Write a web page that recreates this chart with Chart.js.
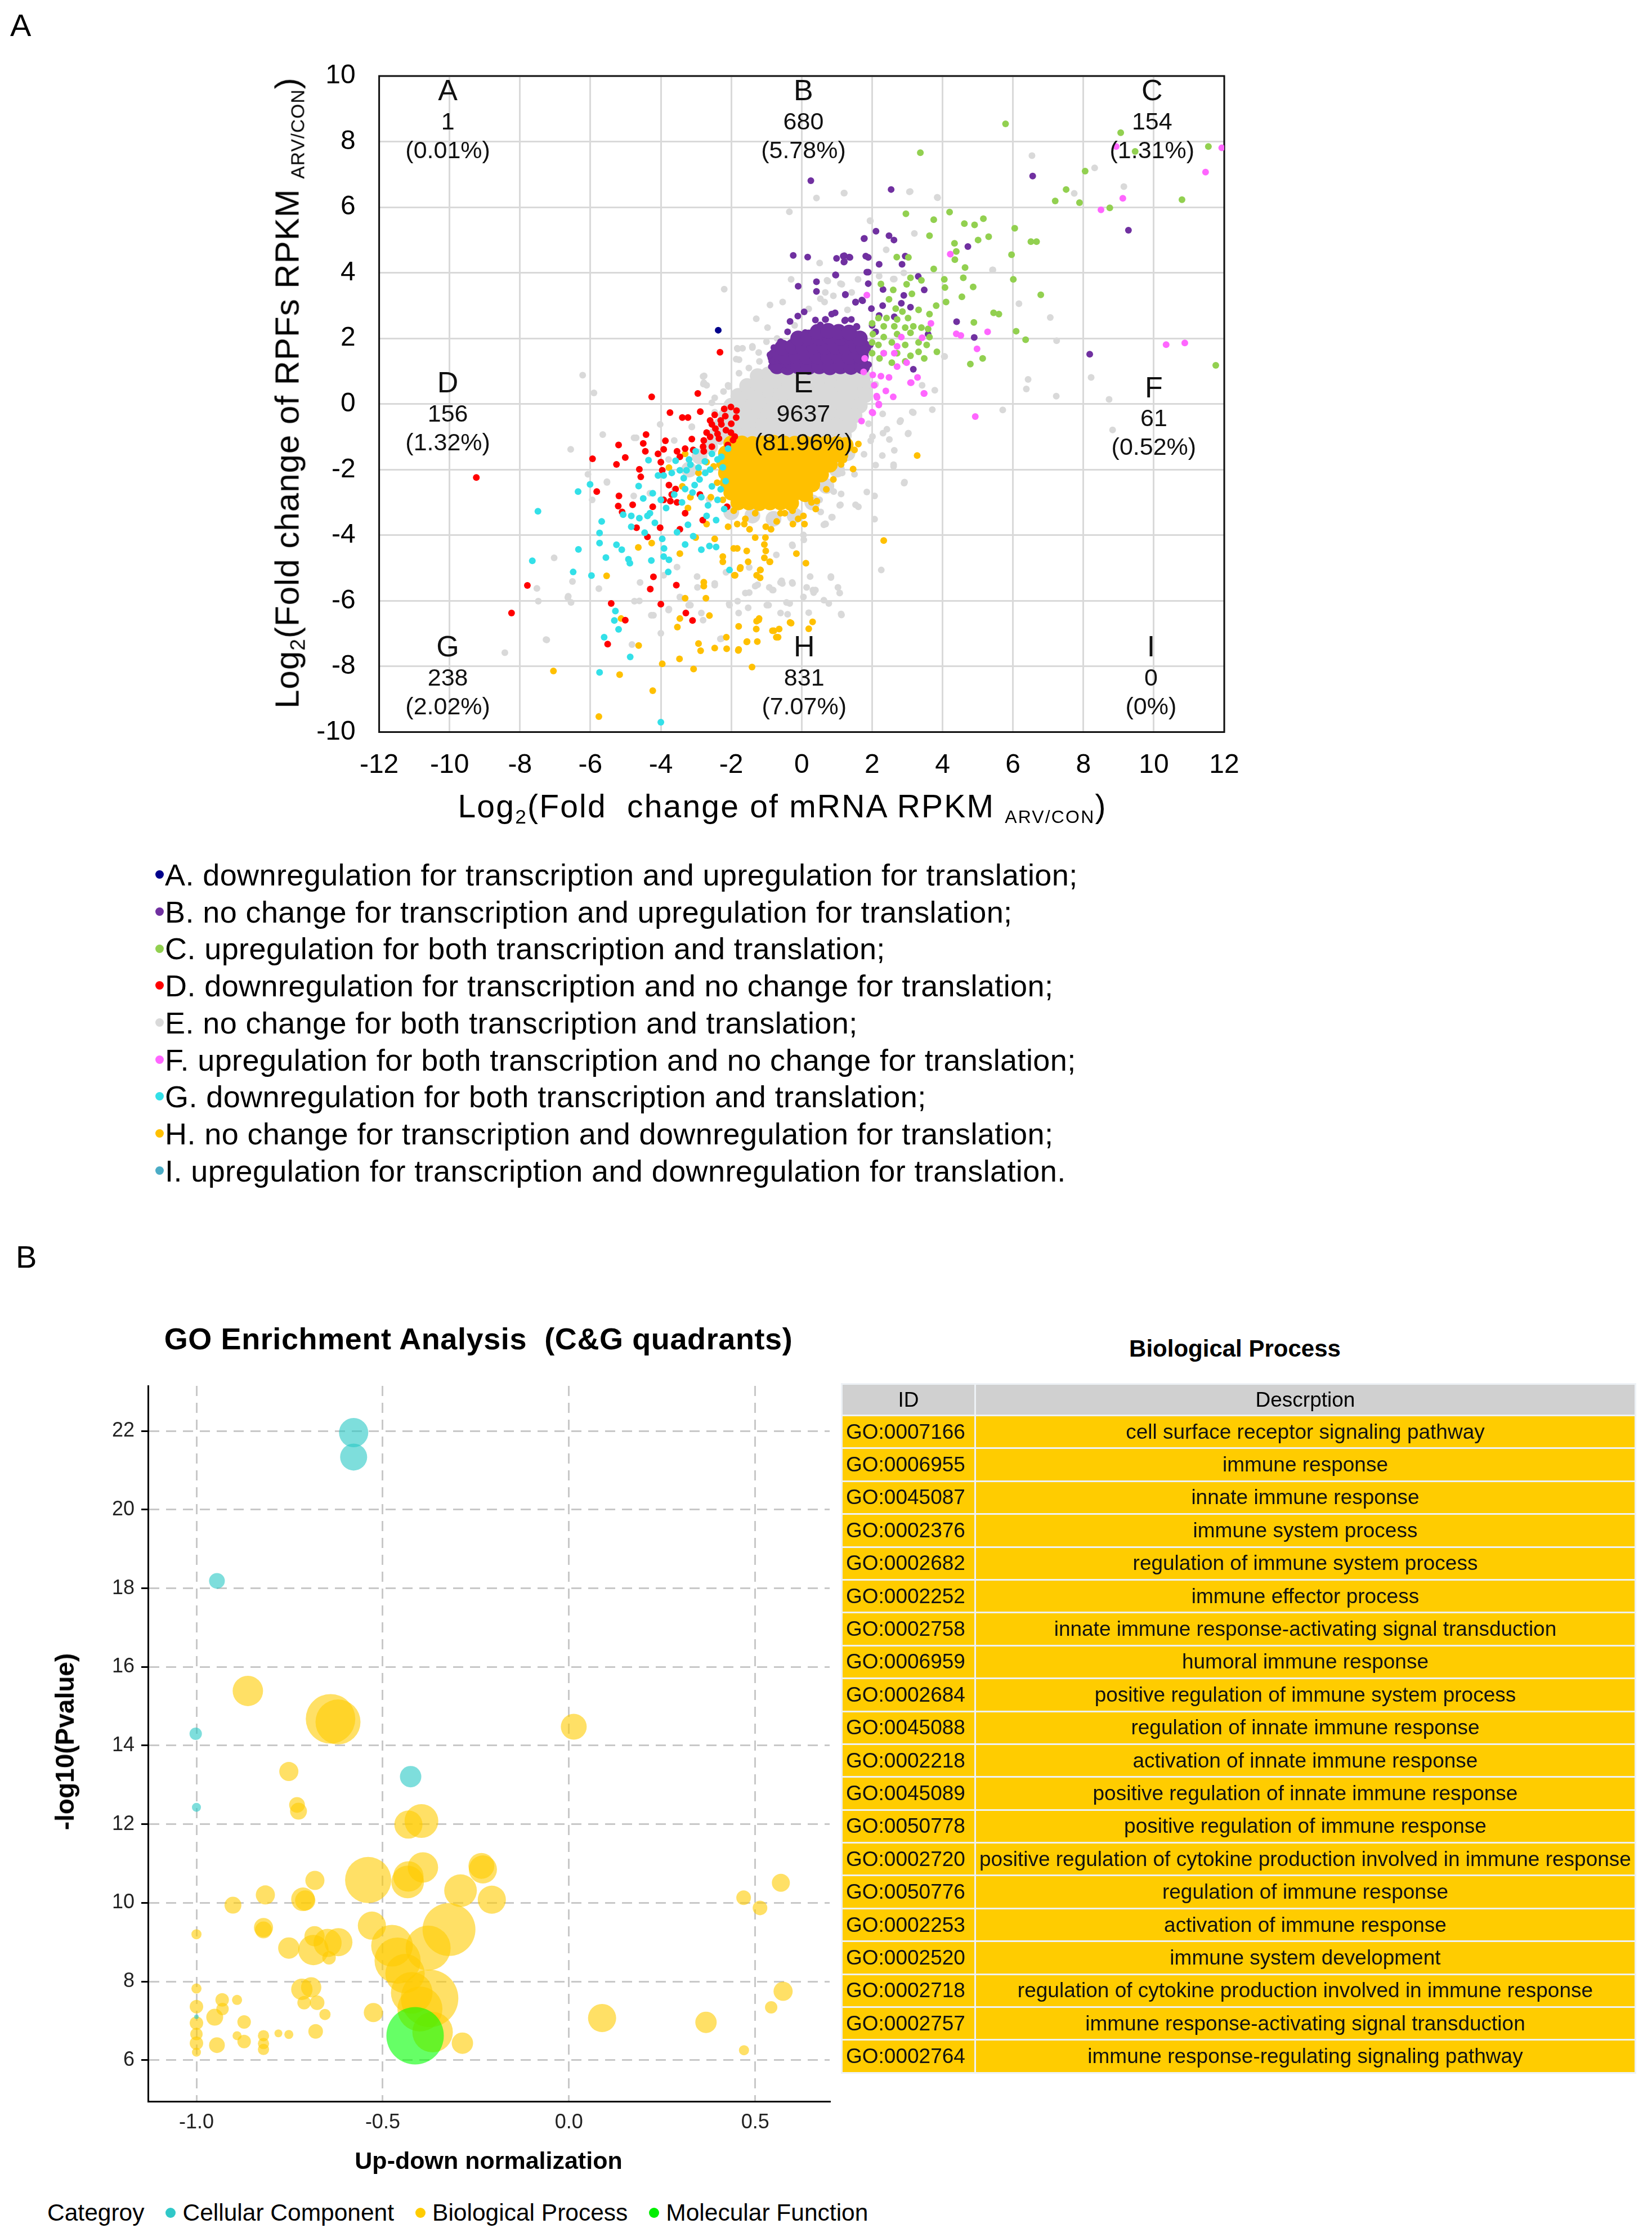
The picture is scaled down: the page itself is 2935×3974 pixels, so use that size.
<!DOCTYPE html>
<html>
<head>
<meta charset="utf-8">
<title>Translation vs transcription and GO enrichment</title>
<script src="https://cdn.jsdelivr.net/npm/chart.js@4.4.1/dist/chart.umd.min.js"></script>
<style>
  html, body { margin: 0; padding: 0; background: #fff; }
  body { position: relative; width: 2935px; height: 3974px; overflow: hidden;
         font-family: "Liberation Sans", Arial, Helvetica, sans-serif; color: #000; }
  .abs { position: absolute; white-space: nowrap; }
  .ctr { transform: translate(-50%, -50%); }
  .rot { transform: translate(-50%, -50%) rotate(-90deg); }
  .panel { font-size: 56px; }
  sub { font-size: 62%; vertical-align: -0.3em; line-height: 0; }
  sub.sm { font-size: 56%; }
  #legendA .row { position: absolute; left: 276px; font-size: 54px; letter-spacing: 0.4px; line-height: 1; transform: translateY(-50%); }
  .dot { display: inline-block; border-radius: 50%; vertical-align: middle; }
  #legendA .dot { width: 15px; height: 15px; margin-right: 2px; position: relative; top: -5px; }
  #legendB { left: 84px; top: 3931px; font-size: 42.5px; transform: translateY(-50%); }
  #legendB .dot { width: 18px; height: 18px; margin: 0 12px 0 38px; position: relative; top: -3px; }
  #tbl { left: 1494px; top: 2457px; border-collapse: collapse; font-size: 37px; }
  #tbl td, #tbl th { border: 3px solid #eef2f6; height: 55.4px; padding: 0 6px; font-weight: normal; }
  #tbl th { background: #d0d0d0; height: 53px; }
  #tbl td { background: #ffcc00; color: #111; }
  #tbl td.id { width: 222px; text-align: left; }
  #tbl td.desc { width: 1144px; text-align: center; }
</style>
</head>
<body>

<div class="abs panel" style="left:18px; top:12px;">A</div>
<div class="abs panel" style="left:28px; top:2200px;">B</div>

<div class="abs" style="left:480px; top:62.5px; width:1760px; height:1357.5px;"><canvas id="chartA"></canvas></div>
<div class="abs rot" style="left:510px; top:698px; font-size:60px; letter-spacing:1px;">Log<sub>2</sub>(Fold change of RPFs RPKM <sub class="sm">ARV/CON</sub>)</div>
<div class="abs ctr" style="left:1390px; top:1432px; font-size:57px; letter-spacing:2.2px;">Log<sub>2</sub>(Fold&nbsp; change of mRNA RPKM <sub class="sm">ARV/CON</sub>)</div>
<div id="legendA"></div>

<div class="abs ctr" style="left:850px; top:2378px; font-size:54px; letter-spacing:0.6px; font-weight:bold;">GO Enrichment Analysis&nbsp; (C&amp;G quadrants)</div>
<div class="abs" style="left:0px; top:2410px; width:1526px; height:1410px;"><canvas id="chartB"></canvas></div>
<div class="abs rot" style="left:115px; top:3094px; font-size:46px; font-weight:bold;">-log10(Pvalue)</div>
<div class="abs ctr" style="left:868px; top:3838px; font-size:43px; font-weight:bold;">Up-down normalization</div>
<div id="legendB" class="abs"></div>

<div class="abs ctr" style="left:2194px; top:2396px; font-size:42px; font-weight:bold;">Biological Process</div>
<table id="tbl" class="abs"></table>

<script>
// ---------- Panel A: log2 fold change, RPFs vs mRNA ----------
const xTicksA = [-12, -10, -8, -6, -4, -2, 0, 2, 4, 6, 8, 10, 12];
const yTicksA = [-10, -8, -6, -4, -2, 0, 2, 4, 6, 8, 10];

const quadLetters = ["A", "B", "C", "D", "E", "F", "G", "H", "I"];
const quadCounts = ["1", "680", "154", "156", "9637", "61", "238", "831", "0"];
const quadPercents = ["(0.01%)", "(5.78%)", "(1.31%)", "(1.32%)", "(81.96%)", "(0.52%)", "(2.02%)", "(7.07%)", "(0%)"];

// [mRNA log2FC, RPF log2FC]
const navyA = [[-2.37, 2.25]];
const purpleB = [
  [0.26, 6.81], [2.54, 6.54], [6.56, 6.95], [9.28, 5.30], [8.18, 1.52], [4.72, 4.80], [4.40, 2.51], [4.90, 2.03],
  [2.11, 5.27], [2.48, 5.13], [2.62, 5.00], [1.77, 5.04], [0.99, 4.44], [1.18, 4.51], [1.37, 4.47], [1.20, 4.33],
  [1.82, 4.51], [1.89, 4.47], [2.20, 4.26], [2.85, 4.26], [2.94, 4.51], [1.89, 4.02], [0.97, 3.93], [3.31, 3.89],
  [1.89, 3.67], [3.48, 3.48], [1.24, 3.33], [2.31, 3.49], [2.90, 3.31], [1.53, 3.11], [1.73, 3.15], [1.98, 2.91],
  [2.83, 3.07], [3.09, 2.95], [2.63, 2.66], [0.68, 2.58], [0.95, 2.78], [1.22, 2.54], [1.41, 2.58], [1.56, 2.37],
  [3.59, 2.13], [3.17, 1.06], [-0.24, 4.53], [0.17, 4.48], [-0.10, 3.59], [0.42, 3.73], [0.42, 3.43], [0.96, 3.94],
  [1.21, 4.52], [1.35, 4.48], [1.21, 4.34], [1.78, 5.05], [-0.11, 2.68], [-0.33, 2.52], [0.07, 2.81], [0.39, 2.56],
  [0.53, 2.41], [0.67, 2.58], [0.85, 2.74], [1.24, 2.56], [1.57, 2.35], [1.53, 3.10], [1.24, 3.34], [1.71, 3.17],
  [1.85, 4.02], [-0.50, 1.03], [-0.86, 1.14], [-0.79, 1.72], [0.10, 2.18], [-0.90, 1.50], [-0.85, 1.30],
  [-0.60, 1.90], [-0.40, 2.20], [1.90, 1.20], [1.95, 1.80], [2.10, 2.20], [2.00, 2.40], [2.20, 2.70], [2.30, 3.00]
];
const purpleBlob = [
  [-0.7, 1.15], [-0.4, 1.12], [-0.1, 1.15], [0.2, 1.13], [0.5, 1.15], [0.8, 1.12], [1.1, 1.15], [1.4, 1.13], [1.72, 1.15],
  [-0.75, 1.45], [-0.45, 1.43], [-0.15, 1.46], [0.15, 1.44], [0.45, 1.45], [0.75, 1.43], [1.05, 1.46], [1.35, 1.44], [1.68, 1.45],
  [-0.55, 1.72], [-0.25, 1.75], [0.05, 1.73], [0.35, 1.76], [0.65, 1.74], [0.95, 1.75], [1.25, 1.73], [1.55, 1.76], [1.75, 1.72],
  [-0.1, 2.0], [0.2, 2.03], [0.5, 2.02], [0.8, 2.05], [1.1, 2.02], [1.4, 2.04], [1.65, 2.0],
  [0.45, 2.2], [0.75, 2.23], [1.05, 2.2], [1.35, 2.18]
];
const greenC = [
  [5.79, 8.54], [3.37, 7.66], [9.06, 8.27], [9.47, 7.70], [11.55, 7.85], [8.05, 7.10], [7.51, 6.54], [7.20, 6.19],
  [7.89, 6.14], [8.75, 5.98], [10.80, 6.23], [11.76, 1.18], [2.96, 5.80], [3.75, 5.62], [4.20, 5.85], [4.62, 5.50],
  [4.91, 5.46], [5.16, 5.65], [6.05, 5.36], [3.63, 5.13], [4.34, 4.90], [4.39, 4.65], [5.01, 5.00], [5.31, 5.10],
  [6.51, 4.95], [6.67, 4.95], [5.96, 4.55], [2.70, 4.48], [3.03, 4.47], [4.35, 4.40], [4.64, 4.16], [3.75, 4.12],
  [4.59, 3.85], [4.05, 3.80], [4.87, 3.57], [6.01, 3.80], [6.79, 3.33], [4.07, 3.55], [4.55, 3.27], [4.10, 3.11],
  [3.82, 3.00], [5.45, 2.78], [5.60, 2.74], [4.89, 2.49], [6.09, 2.22], [6.36, 1.96], [5.14, 1.39], [4.79, 1.22],
  [3.84, 1.59], [3.48, 1.39], [2.25, 3.66], [2.60, 3.48], [2.98, 3.65], [3.09, 3.85], [3.40, 3.77], [3.13, 3.36],
  [2.48, 3.19], [2.67, 2.91], [2.86, 2.82], [3.32, 2.87], [2.18, 2.62], [2.41, 2.62], [2.71, 2.58], [3.02, 2.62],
  [3.63, 2.74], [2.00, 2.46], [2.33, 2.37], [2.63, 2.37], [2.94, 2.33], [3.17, 2.37], [3.40, 2.33], [3.59, 2.29],
  [2.02, 2.13], [2.33, 2.04], [2.71, 2.13], [3.09, 2.17], [3.63, 2.04], [2.00, 1.88], [2.18, 1.80], [2.56, 1.88],
  [2.94, 1.80], [3.32, 1.88], [3.55, 1.80], [2.00, 1.55], [2.33, 1.55], [2.71, 1.55], [3.09, 1.47], [3.32, 1.59],
  [2.21, 1.39], [2.56, 1.26], [2.94, 1.30]
];
const redD = [
  [-9.24, -2.24], [-8.24, -6.37], [-7.79, -5.53], [-5.51, -7.32], [-5.41, -6.08], [-5.01, -6.59], [-4.21, -5.27],
  [-4.30, -5.64], [-4.00, -6.10], [-3.56, -5.52], [-3.29, -6.37], [-3.10, -6.60], [-5.94, -1.67], [-5.82, -2.67],
  [-5.26, -1.84], [-5.20, -1.25], [-5.01, -1.63], [-5.19, -2.80], [-4.80, -3.07], [-5.21, -3.11], [-5.10, -3.29],
  [-4.26, 0.22], [-4.42, -0.93], [-4.50, -1.20], [-4.44, -1.44], [-4.61, -1.99], [-4.57, -2.22], [-4.69, -3.77],
  [-4.38, -4.05], [-4.02, -3.77], [-3.74, -0.26], [-3.87, -1.12], [-3.92, -1.38], [-4.08, -1.52], [-4.00, -1.77],
  [-3.39, -0.41], [-3.23, -0.41], [-2.95, 0.32], [-2.88, -0.23], [-2.32, 1.58], [-2.01, -0.09], [-2.47, -0.33],
  [-2.17, -0.37], [-1.86, -0.41], [-2.55, -0.62], [-2.28, -0.62], [-2.70, -0.87], [-2.01, -0.87], [-1.90, -0.99],
  [-2.39, -0.91], [-2.78, -1.11], [-3.12, -1.07], [-3.31, -1.36], [-3.08, -1.40], [-2.78, -1.44], [-3.46, -1.61],
  [-3.54, -1.44], [-3.96, -2.02], [-3.77, -2.47], [-3.92, -2.92], [-3.73, -2.96], [-3.54, -3.00], [-4.23, -3.13],
  [-3.31, -3.33], [-3.46, -3.82], [-2.81, -3.54], [-2.12, -3.13], [-2.89, -2.76], [-3.69, -2.76], [-3.58, -2.59],
  [-2.60, -0.50], [-2.30, -0.50], [-2.00, -0.60], [-2.45, -0.75], [-2.15, -0.80], [-1.95, -1.10], [-2.60, -1.00],
  [-2.35, -1.05], [-2.10, -1.25], [-2.80, -1.30], [-2.55, -1.30], [-1.85, -0.20], [-2.20, -0.15]
];
const grayE = [
  [6.54, 7.57], [8.32, 7.20], [9.15, 6.63], [7.74, 6.42], [1.20, 6.43], [3.08, 6.48], [3.86, 6.29], [1.95, 5.58],
  [0.51, 4.30], [5.43, 4.09], [6.17, 3.06], [7.06, 2.64], [7.24, 1.93], [6.43, 0.75], [6.38, 0.46], [8.22, 0.81],
  [7.23, 0.24], [8.73, 0.14], [5.71, -0.18], [8.83, -0.79], [4.05, 1.45], [3.71, -0.17], [3.17, -0.26], [2.79, -0.54],
  [3.02, -0.91], [2.63, -1.41], [2.29, -1.57], [2.10, -1.86], [2.61, -1.90], [2.91, -2.41], [2.07, -2.80], [2.07, -3.51],
  [2.26, -5.06], [1.61, -3.13], [1.08, -3.09], [0.86, -3.45], [0.68, -3.66], [1.12, -2.74], [0.54, -2.51], [0.54, -3.29],
  [-0.26, -4.32], [0.24, -5.26], [0.83, -5.26], [1.08, -5.76], [0.39, -5.67], [-0.26, -5.47], [-0.57, -5.39], [-0.83, -5.67],
  [-1.25, -5.51], [-1.60, -5.76], [-0.99, -6.13], [-0.34, -6.08], [0.20, -6.36], [0.77, -6.08], [1.13, -6.43], [-1.79, -6.37],
  [-1.52, -6.21], [-0.60, -6.37], [1.38, -1.61], [1.50, -2.14], [1.15, -2.10], [0.91, -2.67], [0.51, -2.92], [2.61, -1.85],
  [-6.22, 0.88], [-5.90, 0.34], [-5.65, -0.93], [-6.56, -1.38], [-6.07, -2.14], [-5.53, -2.39], [-5.95, -2.92], [-7.03, -4.69],
  [-7.52, -5.62], [-7.48, -6.01], [-6.51, -5.41], [-6.64, -5.90], [-5.76, -5.63], [-7.24, -7.19], [-8.43, -7.58], [-4.82, -7.33],
  [-4.00, -6.99], [-4.21, -6.44], [-4.61, -6.00], [-3.77, -6.25], [-3.46, -5.88], [-3.16, -6.13], [-2.85, -6.37], [-2.47, -5.47],
  [-2.28, -7.15], [-2.05, -6.13], [-0.94, -6.13], [-0.55, -5.47], [-0.40, -6.41], [-1.32, -5.55], [-0.81, -5.67], [-2.97, -5.26],
  [-3.54, -4.97], [-3.92, -5.22], [-4.70, -1.03], [-4.02, -0.62], [-3.62, -1.11], [-2.47, -0.25], [-2.70, 0.57], [-2.78, 0.65],
  [-2.09, 0.57], [-1.82, 1.68], [-1.40, 1.72], [-1.78, 1.35], [-1.78, 0.94], [-1.63, 0.20], [-2.55, 0.04], [-3.12, -0.70],
  [-4.77, -2.80], [0.05, -3.99], [0.05, -5.88], [0.32, -5.67], [1.21, 6.43], [0.42, 6.28], [-0.35, 5.86], [1.94, 5.59],
  [-2.20, 3.50], [-0.30, 3.80], [-0.54, 3.11], [-0.97, 2.33], [-1.83, 1.70], [-1.68, 1.70], [-1.40, 1.76], [-1.22, 1.57],
  [-1.86, 1.37], [-2.77, 0.86], [-2.79, 0.61], [-2.08, 0.53], [-2.22, 0.38], [-2.47, 0.19], [-1.29, 2.60], [-0.90, 3.02],
  [0.53, 3.21], [0.74, 3.75], [1.10, 3.67], [1.42, 3.40], [0.67, 3.40], [2.60, 3.81], [3.06, 6.47], [3.85, 6.30],
  [5.42, 4.09], [4.06, 1.45], [3.14, -0.24], [2.81, -0.50], [2.49, -1.08], [2.92, -2.38], [1.53, -3.07], [1.10, -3.07],
  [0.67, -3.65], [0.85, -3.45], [2.31, -0.89], [1.96, -1.12], [3.03, -0.89], [3.42, 0.57], [3.78, 0.42], [-1.49, -5.75],
  [-0.92, -5.59], [-0.60, -5.44], [-0.27, -5.44], [0.14, -5.59], [0.34, -5.75], [1.03, -5.59], [0.83, -5.29], [0.63, -3.68],
  [0.87, -3.45], [0.06, -4.14], [-0.27, -4.29], [-0.72, -4.60], [-1.49, -4.98], [-2.15, -5.13], [-2.47, -5.52], [-2.96, -5.59],
  [-3.45, -5.90], [-3.21, -6.13], [-2.06, -6.09], [-1.82, -6.01], [-0.43, -6.05], [0.63, -5.98], [1.12, -6.40], [-2.80, -6.59],
  [-2.31, -7.16], [-4.27, -6.44], [-3.78, -6.28], [-4.59, -5.44], [-4.75, -6.01], [-6.55, -6.05], [-6.63, -5.86], [-5.53, -2.37],
  [-4.76, -1.03], [-2.80, 0.84], [-2.76, 0.61], [-3.12, -0.69], [-3.78, -1.69], [-4.31, -2.72], [-3.61, -2.60], [-2.63, -2.91],
  [-2.11, -0.77], [-2.31, -1.15], [1.85, -2.68], [1.77, -1.53], [2.01, -0.99], [2.42, -0.77], [0.20, 2.90], [-0.20, 2.40],
  [0.90, 3.30], [1.60, 3.80], [2.20, 3.90], [2.90, 4.00], [2.40, 4.70], [3.20, 5.20], [-0.70, 2.00], [-1.00, 1.90],
  [-1.20, 1.30], [-1.50, 1.10], [1.90, 0.30], [2.10, 0.60], [2.30, -0.30], [1.90, -0.60], [0.72, 3.77], [1.14, 3.65],
  [0.65, 3.11], [1.30, 2.87], [2.63, 3.81], [-7.26, -7.18]
];
const grayBlob = [
  [-1.25, 0.85], [-0.95, 0.9], [-0.65, 0.85], [-0.35, 0.88], [-0.05, 0.85], [0.25, 0.87], [0.55, 0.85], [0.85, 0.88], [1.15, 0.85], [1.45, 0.87], [1.75, 0.84],
  [-1.55, 0.55], [-1.25, 0.57], [-0.95, 0.55], [-0.65, 0.53], [-0.35, 0.56], [-0.05, 0.55], [0.25, 0.54], [0.55, 0.56], [0.85, 0.55], [1.15, 0.53], [1.45, 0.56], [1.8, 0.55],
  [-1.8, 0.25], [-1.5, 0.27], [-1.2, 0.24], [-0.9, 0.26], [-0.6, 0.25], [-0.3, 0.23], [0.0, 0.26], [0.3, 0.25], [0.6, 0.24], [0.9, 0.26], [1.2, 0.25], [1.5, 0.23], [1.8, 0.27],
  [-2.0, -0.05], [-1.7, -0.03], [-1.4, -0.06], [-1.1, -0.04], [-0.8, -0.05], [-0.5, -0.07], [-0.2, -0.04], [0.1, -0.05], [0.4, -0.06], [0.7, -0.04], [1.0, -0.05], [1.3, -0.07], [1.65, -0.05],
  [-2.15, -0.35], [-1.85, -0.33], [-1.55, -0.36], [-1.25, -0.34], [-0.95, -0.35], [-0.65, -0.37], [-0.35, -0.34], [-0.05, -0.35], [0.25, -0.36], [0.55, -0.34], [0.85, -0.35], [1.15, -0.37], [1.5, -0.35],
  [-2.3, -0.65], [-2.0, -0.63], [-1.7, -0.66], [-1.4, -0.64], [-1.1, -0.65], [-0.8, -0.67], [-0.5, -0.64], [-0.2, -0.65], [0.1, -0.66], [0.4, -0.64], [0.7, -0.65], [1.0, -0.67], [1.35, -0.65],
  [-2.45, -0.95], [-2.15, -0.93], [-1.85, -0.96], [-1.55, -0.94], [-1.25, -0.95], [-0.95, -0.97], [-0.65, -0.94], [-0.35, -0.95], [-0.05, -0.96], [0.25, -0.94], [0.55, -0.95], [0.85, -0.97], [1.2, -0.95],
  [1.3, -1.5], [1.0, -2.0], [0.7, -2.5], [0.3, -3.0], [-0.2, -3.4], [-0.8, -3.5], [-1.4, -3.4], [-2.0, -3.3],
  [-2.6, -1.3], [-2.9, -1.6], [-3.2, -2.0]
];
const pinkF = [
  [8.93, 7.85], [11.93, 7.81], [11.47, 7.07], [9.12, 6.27], [8.50, 5.92], [4.22, 4.57], [10.35, 1.81], [10.88, 1.86],
  [1.85, 3.32], [3.67, 2.46], [4.39, 2.14], [4.52, 2.09], [5.28, 2.20], [4.98, 1.68], [4.93, -0.38], [3.42, 2.02],
  [2.83, 2.04], [2.71, 1.76], [2.63, 1.55], [2.33, 1.55], [2.98, 1.26], [1.79, 1.39], [1.76, 0.98], [2.02, 0.89],
  [2.25, 0.85], [2.48, 0.81], [2.71, 1.14], [3.29, 0.81], [3.09, 0.65], [2.06, 0.57], [2.39, 0.40], [3.48, 0.32],
  [2.60, 0.22], [2.14, 0.20], [2.19, -0.03], [2.02, -0.27], [1.70, -0.52], [2.00, -0.25], [2.19, 0.00], [2.13, 0.24],
  [3.47, 0.32], [3.11, 0.65]
];
const cyanG = [
  [-7.49, -3.27], [-7.65, -4.78], [-6.35, -2.67], [-6.01, -2.45], [-5.68, -3.58], [-5.74, -3.93], [-5.74, -4.24], [-6.34, -4.43],
  [-6.49, -5.12], [-5.97, -5.23], [-5.56, -4.68], [-5.26, -4.29], [-5.11, -4.44], [-4.92, -4.73], [-4.88, -4.85], [-5.29, -6.31],
  [-5.32, -6.60], [-5.20, -6.87], [-5.61, -7.11], [-4.87, -7.71], [-5.74, -8.18], [-4.00, -9.70], [-4.35, -1.71], [-4.63, -2.50],
  [-4.50, -2.88], [-4.23, -2.72], [-5.07, -3.37], [-4.84, -3.41], [-4.61, -3.48], [-4.38, -3.41], [-4.17, -3.62], [-4.84, -3.74],
  [-4.46, -3.92], [-3.96, -4.11], [-3.91, -4.40], [-4.27, -4.77], [-3.92, -4.65], [-3.79, -5.12], [-3.77, -4.75], [-2.85, -4.44],
  [-3.31, -4.28], [-2.62, -4.33], [-2.43, -4.36], [-2.05, -5.06], [-3.54, -3.91], [-3.23, -3.68], [-3.08, -4.03], [-4.08, -2.18],
  [-3.92, -2.18], [-3.69, -2.10], [-3.46, -2.02], [-3.35, -2.26], [-3.16, -1.85], [-3.01, -1.44], [-3.20, -1.69], [-3.58, -1.73],
  [-2.74, -2.10], [-2.55, -1.52], [-2.39, -1.69], [-2.24, -1.93], [-2.55, -2.51], [-2.85, -2.84], [-2.66, -3.09], [-2.39, -2.92],
  [-2.70, -3.41], [-2.43, -3.54], [-3.85, -3.17], [-4.00, -2.92], [-4.31, -3.33], [-3.04, -2.47], [-3.31, -2.59], [-3.62, -2.76],
  [-2.16, -2.35], [-2.09, -1.36], [-2.28, -1.61], [-2.93, -1.94], [-3.27, -2.02], [-2.90, -2.30], [-2.60, -2.00], [-2.30, -2.60],
  [-3.10, -2.70], [-2.75, -1.75], [-3.40, -3.00], [-2.20, -3.20]
];
const orangeH = [
  [3.28, -1.57], [2.33, -4.16], [1.61, -1.22], [1.12, -1.84], [1.46, -1.98], [0.47, -2.14], [0.43, -2.96], [0.24, -2.88],
  [0.08, -3.66], [-0.15, -4.56], [0.12, -4.85], [0.05, -3.41], [-0.26, -3.25], [-0.60, -3.33], [-0.87, -3.82], [-1.03, -4.07],
  [-1.06, -4.28], [-0.91, -4.81], [-1.06, -4.69], [-1.18, -5.06], [-1.18, -5.30], [-1.52, -4.81], [-1.56, -4.48], [-1.83, -4.40],
  [-1.48, -3.82], [-1.83, -3.66], [-1.91, -5.22], [-1.75, -5.02], [0.31, -6.64], [0.20, -6.85], [-0.30, -6.68], [-0.64, -6.86],
  [-0.83, -6.91], [-0.72, -7.11], [-1.22, -6.58], [-1.29, -6.86], [-1.79, -6.78], [-1.56, -7.25], [-1.26, -7.24], [-1.79, -7.48],
  [-1.41, -8.02], [-7.05, -8.14], [-5.76, -9.53], [-5.17, -8.25], [-4.23, -8.74], [-5.54, -5.24], [-4.64, -4.37], [-4.26, -4.24],
  [-4.63, -7.36], [-5.13, -6.54], [-3.96, -7.92], [-3.47, -7.77], [-3.07, -8.08], [-3.31, -5.92], [-3.46, -6.54], [-3.53, -6.80],
  [-2.72, -5.92], [-2.62, -6.45], [-2.78, -5.43], [-2.78, -5.55], [-2.93, -7.30], [-2.87, -7.52], [-2.47, -7.44], [-2.13, -7.46],
  [-2.14, -7.11], [-1.80, -7.51], [-1.55, -7.24], [-1.28, -6.62], [-1.21, -6.54], [-0.79, -6.91], [-0.67, -7.11], [-0.33, -6.66],
  [-3.46, -4.56], [-3.01, -4.07], [-2.47, -4.11], [-2.24, -4.65], [-2.24, -4.81], [-1.93, -4.40], [-1.74, -4.98], [-1.89, -5.22],
  [-1.32, -4.07], [-1.02, -4.48], [-1.17, -5.06], [-0.90, -4.81], [-1.28, -5.22], [-1.93, -3.25], [-1.63, -3.66], [-1.32, -3.33],
  [-1.02, -3.74], [-0.71, -3.58], [-0.48, -3.33], [-0.25, -3.66], [0.28, -3.00], [-2.58, -2.84], [-2.24, -2.92], [-2.09, -3.74],
  [-2.70, -3.66], [-3.23, -3.17], [-3.31, -1.52], [-2.93, -2.10], [-2.70, -1.77], [-3.16, -2.84], [-3.77, -1.94], [-3.39, -2.51],
  [0.90, -2.30], [0.70, -2.60], [1.20, -1.70], [1.50, -1.40], [0.40, -3.20], [-0.10, -3.50], [-1.60, -3.50], [-2.40, -2.40],
  [-2.50, -1.90]
];
const orangeBlob = [
  [-2.0, -1.2], [-1.7, -1.2], [-1.4, -1.22], [-1.1, -1.2], [-0.8, -1.18], [-0.5, -1.2], [-0.2, -1.21], [0.1, -1.2], [0.4, -1.19], [0.7, -1.2], [1.0, -1.22], [1.25, -1.25],
  [-2.15, -1.5], [-1.85, -1.5], [-1.55, -1.52], [-1.25, -1.5], [-0.95, -1.48], [-0.65, -1.5], [-0.35, -1.51], [-0.05, -1.5], [0.25, -1.49], [0.55, -1.5], [0.85, -1.52], [1.1, -1.55],
  [-2.2, -1.8], [-1.9, -1.8], [-1.6, -1.82], [-1.3, -1.8], [-1.0, -1.78], [-0.7, -1.8], [-0.4, -1.81], [-0.1, -1.8], [0.2, -1.79], [0.5, -1.8], [0.8, -1.85],
  [-2.15, -2.1], [-1.85, -2.1], [-1.55, -2.12], [-1.25, -2.1], [-0.95, -2.08], [-0.65, -2.1], [-0.35, -2.11], [-0.05, -2.1], [0.25, -2.1], [0.55, -2.15],
  [-2.1, -2.4], [-1.8, -2.4], [-1.5, -2.42], [-1.2, -2.4], [-0.9, -2.38], [-0.6, -2.4], [-0.3, -2.41], [0.0, -2.4], [0.3, -2.45],
  [-2.0, -2.7], [-1.7, -2.7], [-1.4, -2.72], [-1.1, -2.7], [-0.8, -2.68], [-0.5, -2.7], [-0.2, -2.72], [0.1, -2.75],
  [-1.8, -3.0], [-1.5, -3.0], [-1.2, -3.02], [-0.9, -3.0], [-0.6, -3.0], [-0.3, -3.02]
];

const legendTextA = [
  "A. downregulation for transcription and upregulation for translation;",
  "B. no change for transcription and upregulation for translation;",
  "C. upregulation for both transcription and translation;",
  "D. downregulation for transcription and no change for translation;",
  "E. no change for both transcription and translation;",
  "F. upregulation for both transcription and no change for translation;",
  "G. downregulation for both transcription and translation;",
  "H. no change for transcription and downregulation for translation;",
  "I. upregulation for transcription and downregulation for translation."
];

// ---------- Panel B: GO enrichment bubbles ----------
const xTicksB = [-1.0, -0.5, 0.0, 0.5];
const yTicksB = [6, 8, 10, 12, 14, 16, 18, 20, 22];
const categoriesB = ["Cellular Component", "Biological Process", "Molecular Function"];

// x = up-down normalization, y = -log10(P), s = bubble radius as drawn
const ccX = [-0.578, -0.578, -0.945, -1.002, -1.0, -0.425, -1.0];
const ccY = [21.96, 21.34, 18.19, 14.30, 12.43, 13.21, 7.10];
const ccS = [26, 24, 14, 11, 8, 19, 4];

const bpX = [-0.862, -0.64, -0.62, 0.013, -0.752, -0.73, -0.726, -0.431, -0.396, -0.539, -0.433, -0.431, -0.392, -0.235, -0.231,
  -0.291, -0.207, -0.682, -0.815, -0.902, -0.714, -0.708, -0.82, -0.82, -1.0, -0.752, -0.683, -0.686, -0.648, -0.619,
  -0.644, -0.529, -0.475, -0.46, -0.378, -0.322, -0.374, -0.422, -0.366, -0.286, -0.525, -0.717, -0.692, -0.711, -0.676,
  -0.655, -0.68, -0.752, -0.78, -0.82, -0.82, -0.82, -0.872, -0.872, -0.891, -0.945, -0.951, -0.931, -0.93, -0.891,
  -1.0, -1.0, -1.0, -1.0, -1.0, -1.0, 0.089, 0.368, 0.47, 0.469, 0.513, 0.569, 0.575, 0.543, -0.44, -0.40];
const bpY = [15.39, 14.68, 14.60, 14.48, 13.34, 12.49, 12.33, 11.99, 12.08, 10.58, 10.53, 10.67, 10.90, 10.94, 10.85,
  10.31, 10.08, 10.57, 10.20, 9.94, 10.09, 10.06, 9.37, 9.31, 9.20, 8.85, 9.15, 8.80, 8.98, 9.00,
  8.60, 9.42, 8.91, 8.53, 8.85, 9.32, 7.57, 7.71, 6.71, 6.43, 7.21, 7.80, 7.85, 7.46, 7.46,
  7.16, 6.73, 6.65, 6.68, 6.62, 6.42, 6.27, 6.97, 6.47, 6.62, 6.38, 7.09, 7.53, 7.30, 7.53,
  7.82, 7.36, 6.94, 6.66, 6.43, 6.20, 7.07, 6.96, 6.25, 10.13, 9.87, 10.51, 7.75, 7.34, 8.2, 7.3];
const bpS = [27, 44, 40, 23, 17, 14, 15, 25, 30, 41, 29, 27, 27, 23, 25,
  29, 25, 17, 17, 15, 21, 18, 17, 15, 9, 19, 18, 27, 25, 25,
  12, 25, 37, 41, 40, 47, 51, 37, 36, 19, 17, 19, 18, 12, 13,
  10, 13, 8, 7, 10, 10, 10, 12, 12, 8, 14, 15, 12, 11, 9,
  9, 12, 12, 11, 12, 8, 25, 19, 9, 13, 13, 16, 17, 11, 35, 40];

const mfX = [-0.413];
const mfY = [6.62];
const mfS = [51];

// ---------- Table ----------
const goIds = ["GO:0007166", "GO:0006955", "GO:0045087", "GO:0002376", "GO:0002682", "GO:0002252", "GO:0002758",
  "GO:0006959", "GO:0002684", "GO:0045088", "GO:0002218", "GO:0045089", "GO:0050778", "GO:0002720", "GO:0050776",
  "GO:0002253", "GO:0002520", "GO:0002718", "GO:0002757", "GO:0002764"];
const goTerms = ["cell surface receptor signaling pathway", "immune response", "innate immune response",
  "immune system process", "regulation of immune system process", "immune effector process",
  "innate immune response-activating signal transduction", "humoral immune response",
  "positive regulation of immune system process", "regulation of innate immune response",
  "activation of innate immune response", "positive regulation of innate immune response",
  "positive regulation of immune response",
  "positive regulation of cytokine production involved in immune response", "regulation of immune response",
  "activation of immune response", "immune system development",
  "regulation of cytokine production involved in immune response",
  "immune response-activating signal transduction", "immune response-regulating signaling pathway"];

// ---------- styles ----------
const FONT = '"Liberation Sans", Arial, Helvetica, sans-serif';
Chart.defaults.font.family = FONT;
Chart.defaults.color = "#000";

const colA = {
  A: "#00008b", B: "#7030a0", C: "#92d050", D: "#ff0000", E: "#d9d9d9",
  F: "#ff66ff", G: "#33e0e8", H: "#ffc000", I: "#4bacc6"
};
const colB = ["rgba(40,200,196,0.6)", "rgba(255,204,0,0.6)", "rgba(0,255,0,0.6)"];
const colBLegend = ["#30c8c8", "#ffcc00", "#00ee00"];

const quadSpots = [[-10.05, 9.5], [0.05, 9.5], [9.95, 9.5], [-10.05, 0.6], [0.05, 0.6], [10.0, 0.45],
  [-10.05, -7.45], [0.07, -7.45], [9.92, -7.45]];

const toPts = arr => arr.map(p => ({ x: p[0], y: p[1] }));
const fixTicks = list => axis => { axis.ticks = list.map(v => ({ value: v })); };

function dotSet(pts, color, radius, order) {
  return {
    data: toPts(pts), backgroundColor: color, borderWidth: 0,
    pointRadius: radius, pointHoverRadius: radius, order: order
  };
}

const framePlugin = {
  id: "frame",
  beforeDatasetsDraw(chart) {
    const { ctx, chartArea: a } = chart;
    ctx.save();
    ctx.strokeStyle = "#111";
    ctx.lineWidth = 3;
    ctx.strokeRect(a.left, a.top, a.right - a.left, a.bottom - a.top);
    ctx.restore();
  }
};

const quadPlugin = {
  id: "quadLabels",
  afterDatasetsDraw(chart) {
    const { ctx, scales: { x, y } } = chart;
    ctx.save();
    ctx.fillStyle = "#111";
    ctx.textAlign = "center";
    ctx.textBaseline = "middle";
    quadLetters.forEach((letter, i) => {
      const px = x.getPixelForValue(quadSpots[i][0]);
      const py = y.getPixelForValue(quadSpots[i][1]);
      ctx.font = "52px " + FONT;
      ctx.fillText(letter, px, py);
      ctx.font = "43px " + FONT;
      ctx.fillText(quadCounts[i], px, py + 54);
      ctx.fillText(quadPercents[i], px, py + 105);
    });
    ctx.restore();
  }
};

// y tick padding (42) + half a label sets the top inset, so top padding is given explicitly
new Chart(document.getElementById("chartA"), {
  type: "scatter",
  data: {
    datasets: [
      dotSet(grayBlob, colA.E, 14, 9),
      dotSet(grayE, colA.E, 6, 8),
      dotSet(orangeBlob, colA.H, 14, 7),
      dotSet(orangeH, colA.H, 6, 6),
      dotSet(redD, colA.D, 6, 5),
      dotSet(cyanG, colA.G, 6, 4),
      dotSet(purpleBlob, colA.B, 14, 3.5),
      dotSet(purpleB, colA.B, 6, 3),
      dotSet(greenC, colA.C, 6, 2),
      dotSet(pinkF, colA.F, 6, 1),
      dotSet(navyA, colA.A, 6, 0)
    ]
  },
  options: {
    responsive: true, maintainAspectRatio: false, animation: false, devicePixelRatio: 1,
    layout: { padding: { top: 72, right: 65, bottom: 0, left: 0 } },
    plugins: { legend: { display: false }, tooltip: { enabled: false } },
    scales: {
      x: {
        type: "linear", min: -12, max: 12,
        afterBuildTicks: fixTicks(xTicksA),
        afterFit: s => { s.height = 120; },
        grid: { color: "#d9d9d9", lineWidth: 3, drawTicks: false },
        border: { display: false },
        ticks: { padding: 30, font: { size: 48 }, color: "#000" }
      },
      y: {
        type: "linear", min: -10, max: 10,
        afterBuildTicks: fixTicks(yTicksA),
        afterFit: s => { s.width = 193.6; },
        grid: { color: "#d9d9d9", lineWidth: 3, drawTicks: false },
        border: { display: false },
        ticks: { padding: 42, font: { size: 48 }, color: "#000" }
      }
    }
  },
  plugins: [framePlugin, quadPlugin]
});

// legend for panel A
const legA = document.getElementById("legendA");
const legKeys = Object.keys(colA);
legendTextA.forEach((t, i) => {
  const row = document.createElement("div");
  row.className = "row";
  row.style.top = (1554 + i * 65.7) + "px";
  row.innerHTML = '<span class="dot" style="background:' + colA[legKeys[i]] + '"></span>' + t;
  legA.appendChild(row);
});

// panel B bubbles (largest bubble radius forces ~51px min padding on every side)
const bubbles = (xs, ys, ss) => xs.map((v, i) => ({ x: v, y: ys[i], r: ss[i] }));

new Chart(document.getElementById("chartB"), {
  type: "bubble",
  data: {
    datasets: [
      { label: categoriesB[0], data: bubbles(ccX, ccY, ccS), backgroundColor: colB[0], borderWidth: 0, order: 1 },
      { label: categoriesB[1], data: bubbles(bpX, bpY, bpS), backgroundColor: colB[1], borderWidth: 0, order: 2 },
      { label: categoriesB[2], data: bubbles(mfX, mfY, mfS), backgroundColor: colB[2], borderWidth: 0, order: 0 }
    ]
  },
  options: {
    responsive: true, maintainAspectRatio: false, animation: false, devicePixelRatio: 1,
    layout: { padding: { top: 52, right: 52, bottom: 0, left: 0 } },
    plugins: { legend: { display: false }, tooltip: { enabled: false } },
    scales: {
      x: {
        type: "linear", min: -1.13, max: 0.70,
        afterBuildTicks: fixTicks(xTicksB),
        afterFit: s => { s.height = 87; },
        grid: { color: "#c8c8c8", lineWidth: 3, drawTicks: false },
        border: { display: true, color: "#000", width: 3, dash: [18, 12] },
        ticks: { padding: 16, font: { size: 36 }, color: "#222", callback: v => Number(v).toFixed(1) }
      },
      y: {
        type: "linear", min: 4.95, max: 23.15,
        afterBuildTicks: fixTicks(yTicksB),
        afterFit: s => { s.width = 263; },
        grid: { color: "#c8c8c8", lineWidth: 3, drawTicks: true, tickLength: 12, tickColor: "#000", tickWidth: 3 },
        border: { display: true, color: "#000", width: 3, dash: [18, 12] },
        ticks: { padding: 12, font: { size: 36 }, color: "#222" }
      }
    }
  }
});

// legend for panel B
const legB = document.getElementById("legendB");
legB.innerHTML = "Categroy" + categoriesB.map((c, i) =>
  '<span class="dot" style="background:' + colBLegend[i] + '"></span>' + c).join("");

// table
const tbl = document.getElementById("tbl");
let html = "<tr><th>ID</th><th>Descrption</th></tr>";
goIds.forEach((id, i) => {
  html += '<tr><td class="id">' + id + '</td><td class="desc">' + goTerms[i] + "</td></tr>";
});
tbl.innerHTML = html;
</script>
</body>
</html>
